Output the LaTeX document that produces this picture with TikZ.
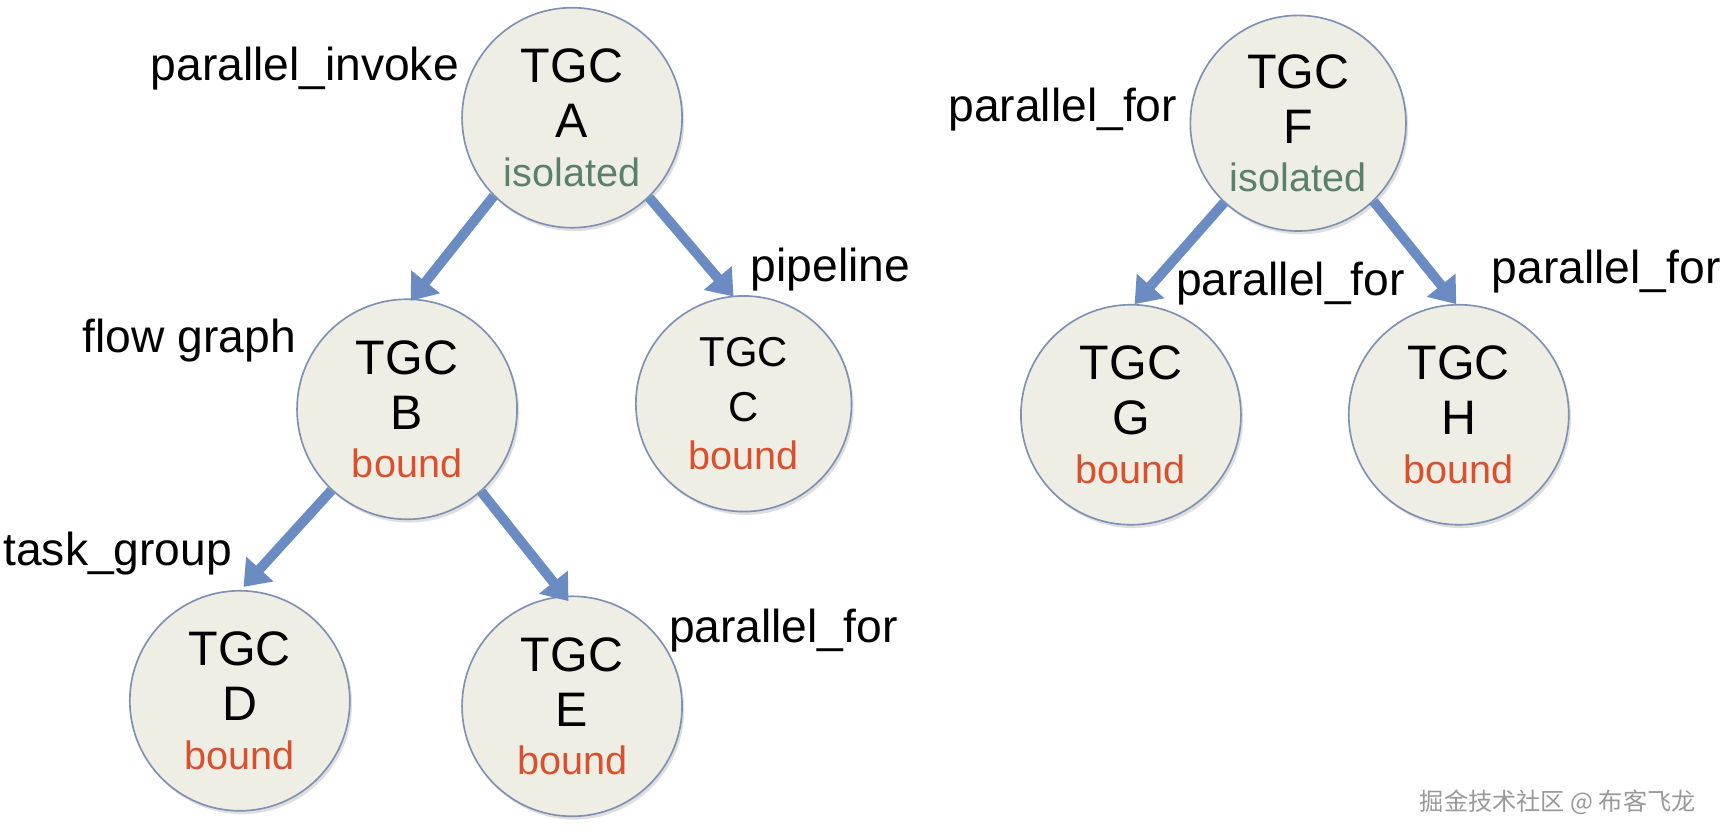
\documentclass[tikz,border=0pt]{standalone}
\usepackage{fontspec}
\setmainfont{Liberation Sans}
\newfontfamily\cjk{Noto Sans CJK SC}
\usetikzlibrary{arrows.meta,shadows}
\definecolor{cfill}{HTML}{EEEEE4}
\definecolor{cline}{HTML}{7F90B4}
\definecolor{arr}{HTML}{6A8CC2}
\definecolor{iso}{HTML}{5A8068}
\definecolor{bnd}{HTML}{D9502E}
\begin{document}
\begin{tikzpicture}[x=1pt,y=-1pt,
  tgc/.style={circle,draw=cline,line width=1.5pt,fill=cfill,minimum size=200pt,inner sep=0pt,align=center,font=\fontsize{44}{50}\selectfont,drop shadow={shadow xshift=2pt,shadow yshift=-3pt,opacity=0.25}},
  lbl/.style={font=\fontsize{42}{48}\selectfont},
  link/.style={draw=arr,line width=9pt,-{Triangle[length=22pt,width=32pt]},shorten >=2pt}]
\useasboundingbox (0,0) rectangle (1568,763);
\fill[white] (0,0) rectangle (1568,763);
\newcommand{\iso}{\\[-6pt]{\fontsize{36}{40}\selectfont\color{iso}isolated}}
\newcommand{\bnd}{\\[-6pt]{\fontsize{36}{40}\selectfont\color{bnd}bound}}
\node[tgc] (A) at (520,107) {TGC\\A\iso};
\node[tgc] (B) at (370,372) {TGC\\B\bnd};
\node[tgc,minimum size=196pt,font=\fontsize{38}{50}\selectfont] (C) at (676,367) {TGC\\C\bnd};
\node[tgc] (D) at (218,637) {TGC\\D\bnd};
\node[tgc] (E) at (520,642) {TGC\\E\bnd};
\node[tgc,minimum size=196pt] (F) at (1180,112) {TGC\\F\iso};
\node[tgc] (G) at (1028,377) {TGC\\G\bnd};
\node[tgc] (H) at (1326,377) {TGC\\H\bnd};
\coordinate (ab) at (372,275); \coordinate (ac) at (668,271);
\coordinate (bd) at (220,535); \coordinate (be) at (518,548);
\coordinate (fg) at (1030,278); \coordinate (fh) at (1325,278);
\draw[link] (A.-135) -- (ab);
\draw[link] (A.-46) -- (ac);
\draw[link] (B.-133) -- (bd);
\draw[link] (B.-48) -- (be);
\draw[link] (F.-133) -- (fg);
\draw[link] (F.-46) -- (fh);
\node[lbl] (l1) at (277,62) {parallel\_invoke};
\node[lbl] (l2) at (755,245) {pipeline};
\node[lbl] (l3) at (172,310) {flow graph};
\node[lbl] (l4) at (107,503) {task\_group};
\node[lbl] (l5) at (712,573) {parallel\_for};
\node[lbl] (l6) at (966,100) {parallel\_for};
\node[lbl] (l7) at (1173,258) {parallel\_for};
\node[lbl] (l8) at (1460,247) {parallel\_for};
\node[font=\cjk\fontsize{22}{26}\selectfont,text=gray!80] (wm) at (1416,729) {掘金技术社区 @ 布客飞龙};
\end{tikzpicture}
\end{document}
